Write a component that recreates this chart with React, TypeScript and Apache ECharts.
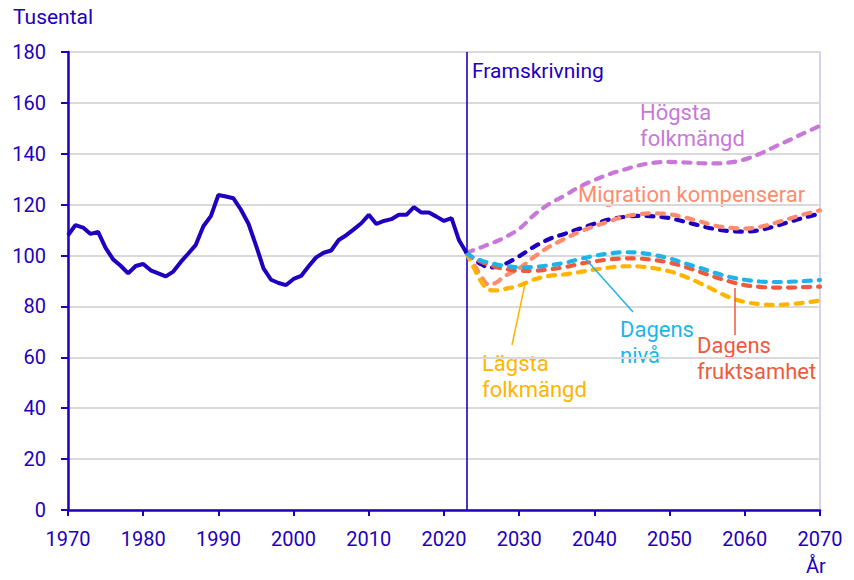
import React, { useEffect, useRef } from "react";
import * as echarts from "echarts";

const histYears: number[] = [];
for (let y = 1970; y <= 2023; y++) histYears.push(y);
const histValues = [
  108, 112, 111, 108.5, 109.3, 103, 98.5, 96, 93, 95.9,
  96.7, 94.2, 93, 91.8, 93.7, 97.5, 100.8, 104.2, 111.5, 115.5,
  123.8, 123.2, 122.5, 118, 112.5, 104, 95, 90.5, 89.2, 88.4,
  90.8, 92, 95.8, 99.3, 101.1, 102, 106.1, 108, 110.3, 112.7,
  116, 112.4, 113.6, 114.3, 116, 116, 119, 116.9, 116.9, 115.3,
  113.6, 114.7, 106, 101,
];

const projYears = [
  2023, 2024, 2025, 2026, 2027, 2028, 2030, 2032, 2034, 2036, 2038, 2040, 2042,
  2044, 2046, 2048, 2050, 2052, 2054, 2056, 2058, 2060, 2062, 2064, 2066, 2068, 2070,
];
const hogsta = [
  101, 102.2, 103.3, 104.5, 105.6, 107, 110.5, 116, 120.3, 123.5, 127, 129.7, 132,
  133.8, 135.5, 136.5, 136.8, 136.6, 136.3, 136.2, 136.6, 137.8, 140, 142.8, 145.5, 148.3, 151,
];
const huvud = [
  101, 98.5, 96.5, 95.3, 95.5, 96.5, 99.7, 103.5, 106.5, 108.5, 110.5, 112.5, 114.2,
  115.2, 115.6, 115.4, 114.7, 113.3, 111.8, 110.4, 109.6, 109.4, 110, 111.5, 113.3, 115, 116.5,
];
const migration = [
  101, 96.5, 91.5, 88.5, 89.5, 91.8, 95, 99.5, 103.5, 106.5, 109.3, 111.5, 113.5,
  115.3, 116.3, 116.6, 116.2, 115, 113.4, 111.8, 110.9, 110.6, 111.3, 112.8, 114.6, 116.3, 117.8,
];
const dagensNiva = [
  101, 99, 98, 97.2, 96.5, 96, 95.4, 95.5, 96.2, 97.1, 98.6, 99.9, 100.8,
  101.3, 101.1, 100.2, 98.9, 97, 95.2, 93.2, 91.6, 90.5, 89.8, 89.6, 89.7, 90, 90.4,
];
const dagensFrukt = [
  101, 98.8, 97.5, 96.3, 95.4, 94.8, 94, 94, 94.6, 95.4, 96.7, 97.7, 98.5,
  98.9, 98.8, 98.2, 97.2, 95.6, 93.6, 91.6, 89.8, 88.4, 87.7, 87.4, 87.4, 87.6, 87.8,
];
const lagsta = [
  101, 95, 89.5, 86.5, 86.3, 86.8, 88.2, 90.6, 92, 92.6, 93.5, 94.5, 95.3,
  95.8, 95.7, 95, 93.8, 91.8, 89.2, 86.3, 83.5, 81.8, 80.9, 80.6, 80.9, 81.5, 82.3,
];

const xTicks = [1970, 1980, 1990, 2000, 2010, 2020, 2030, 2040, 2050, 2060, 2070];
const yTicks = [0, 20, 40, 60, 80, 100, 120, 140, 160, 180];
const forecastStart = 2023;

const C_DARK = "#1E00BE";
const C_PURPLE = "#C878D8";
const C_SALMON = "#FF8C6E";
const C_BLUE = "#1EB4EB";
const C_RED = "#F05A3C";
const C_ORANGE = "#FFB400";
const FONT = "Roboto";

const pairs = (xs: number[], ys: number[]) => xs.map((x, i) => [x, ys[i]]);

function dashed(name: string, ys: number[], color: string, z: number) {
  return {
    name,
    type: "line",
    data: pairs(projYears, ys),
    smooth: 0.35,
    showSymbol: false,
    z,
    lineStyle: { color, width: 4.2, type: [7, 8], cap: "round" },
  };
}

function label(text: string, x: number, y: number, color: string, size = 22) {
  return {
    type: "text",
    left: x,
    top: y,
    style: { text, fill: color, font: `${size}px ${FONT}` },
  };
}

function lead(x1: number, y1: number, x2: number, y2: number, color: string) {
  return {
    type: "line",
    shape: { x1, y1, x2, y2 },
    style: { stroke: color, lineWidth: 1.5 },
    z: 100,
  };
}

export default function App() {
  const ref = useRef<HTMLDivElement>(null);
  useEffect(() => {
    if (!ref.current) return;
    const chart = echarts.init(ref.current, null, { renderer: "svg" });
    chart.setOption({
      animation: false,
      textStyle: { fontFamily: FONT },
      grid: {
        left: 68,
        right: 34,
        top: 52,
        bottom: 70,
        show: true,
        borderColor: "#D4D4F2",
        borderWidth: 2,
      },
      xAxis: {
        type: "value",
        min: 1970,
        max: 2070,
        interval: 10,
        axisLine: { show: true, onZero: false, lineStyle: { color: C_DARK, width: 2.5 } },
        axisTick: { show: true, length: 6, lineStyle: { color: C_DARK, width: 2 } },
        axisLabel: {
          color: C_DARK,
          fontSize: 20,
          fontFamily: FONT,
          margin: 19,
          formatter: (v: number) => (xTicks.includes(v) ? String(v) : ""),
        },
        splitLine: { show: false },
      },
      yAxis: {
        type: "value",
        min: 0,
        max: 180,
        interval: 20,
        axisLine: { show: true, lineStyle: { color: C_DARK, width: 2.5 } },
        axisTick: { show: true, length: 7, lineStyle: { color: C_DARK, width: 2 } },
        axisLabel: {
          color: C_DARK,
          fontSize: 20,
          fontFamily: FONT,
          margin: 22,
          formatter: (v: number) => (yTicks.includes(v) ? String(v) : ""),
        },
        splitLine: { show: true, lineStyle: { color: "#D9D9D9", width: 2 } },
      },
      series: [
        {
          name: "Historik",
          type: "line",
          data: pairs(histYears, histValues),
          showSymbol: false,
          z: 10,
          lineStyle: { color: C_DARK, width: 4 },
          markLine: {
            silent: true,
            symbol: "none",
            label: { show: false },
            lineStyle: { color: C_DARK, width: 1.6, type: "solid" },
            data: [{ xAxis: forecastStart }],
          },
        },
        dashed("Högsta folkmängd", hogsta, C_PURPLE, 3),
        dashed("Huvudalternativ", huvud, C_DARK, 4),
        dashed("Migration kompenserar", migration, C_SALMON, 5),
        dashed("Lägsta folkmängd", lagsta, C_ORANGE, 6),
        dashed("Dagens fruktsamhet", dagensFrukt, C_RED, 7),
        dashed("Dagens nivå", dagensNiva, C_BLUE, 8),
      ],
      graphic: [
        label("Tusental", 13, 6, C_DARK, 21),
        label("År", 806, 556, C_DARK, 20),
        label("Framskrivning", 472, 60, C_DARK, 21),
        label("Högsta", 640, 101, C_PURPLE),
        label("folkmängd", 640, 127, C_PURPLE),
        label("Migration kompenserar", 578, 183, C_SALMON),
        label("Dagens", 620, 318, C_BLUE),
        label("nivå", 620, 344, C_BLUE),
        label("Dagens", 697, 334, C_RED),
        label("fruktsamhet", 697, 360, C_RED),
        label("Lägsta", 482, 352, C_ORANGE),
        label("folkmängd", 482, 378, C_ORANGE),
        lead(525, 284, 512, 345, C_ORANGE),
        lead(583, 256, 633, 312, C_BLUE),
        lead(735, 288, 735, 335, C_RED),
      ],
    });
    return () => chart.dispose();
  }, []);
  return <div ref={ref} style={{ width: 854, height: 580, marginLeft: -8, marginTop: -8 }} />;
}
